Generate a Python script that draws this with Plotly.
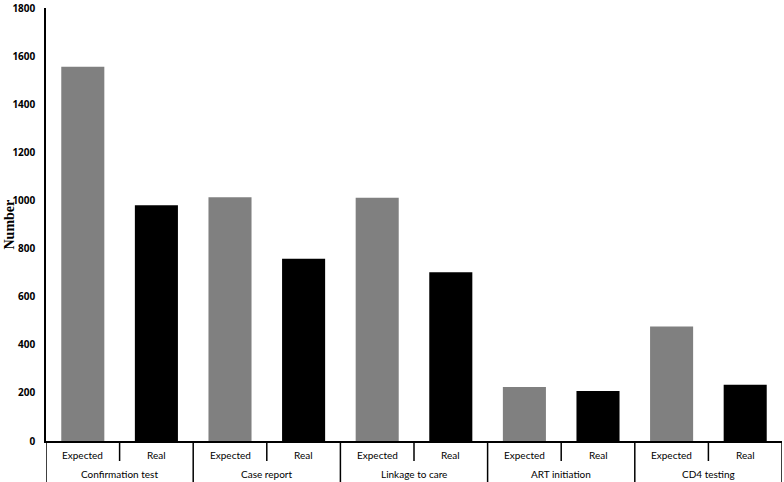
import plotly.graph_objects as go

# care cascade steps and counts
steps = ["Confirmation test", "Case report", "Linkage to care", "ART initiation", "CD4 testing"]
kinds = ["Expected", "Real"]
expected = [1556, 1013, 1011, 224, 476]
real = [980, 758, 702, 208, 234]

# interleave so each step gets its Expected / Real pair
pos, vals, cols, inner = [], [], [], []
for i, (e, r) in enumerate(zip(expected, real)):
    for j, (k, v) in enumerate(zip(kinds, [e, r])):
        pos.append(2 * i + j)
        vals.append(v)
        inner.append(k)
        cols.append("#808080" if k == "Expected" else "#000000")

fig = go.Figure(go.Bar(x=pos, y=vals, marker_color=cols, marker_line_width=0))

plot_h = 433  # px height of plot area, used to drop labels below the axis
def below(px):
    return -px / plot_h

shapes, annots = [], []
# short dividers between Expected and Real
for p in pos[::2]:
    shapes.append(dict(type="line", xref="x", yref="paper", x0=p + 0.5, x1=p + 0.5,
                       y0=0, y1=below(20), line=dict(color="black", width=1.5)))
# long dividers between steps, incl. both ends
for i in range(len(steps) + 1):
    x = 2 * i - 0.5
    shapes.append(dict(type="line", xref="x", yref="paper", x0=x, x1=x,
                       y0=0, y1=below(45), line=dict(color="black", width=1.5)))
for p, k in zip(pos, inner):
    annots.append(dict(x=p, y=below(14), xref="x", yref="paper", text=k, showarrow=False,
                       font=dict(family="Lato", size=10, color="black"), yanchor="middle"))
for i, s in enumerate(steps):
    annots.append(dict(x=2 * i + 0.5, y=below(33), xref="x", yref="paper", text=s, showarrow=False,
                       font=dict(family="Lato", size=10, color="black"), yanchor="middle"))
annots.append(dict(x=-37 / 736, y=0.5, xref="paper", yref="paper", text="<b>Number</b>",
                   textangle=-90, showarrow=False, xanchor="center", yanchor="middle",
                   font=dict(family="Liberation Serif", size=14, color="black")))

fig.update_layout(
    width=784, height=482,
    margin=dict(l=46, r=2, t=8, b=41, autoexpand=False),
    plot_bgcolor="white", paper_bgcolor="white",
    bargap=0.415, showlegend=False,
    shapes=shapes, annotations=annots,
)
fig.update_yaxes(
    range=[0, 1800], tickvals=list(range(0, 1801, 200)), showgrid=False, zeroline=False,
    showline=True, linecolor="black", linewidth=1.5, ticks="",
    ticklabelstandoff=7, ticklabeloverflow="allow", automargin=False,
    tickfont=dict(family="Open Sans", size=10, color="black", weight="bold"),
)
fig.update_xaxes(
    range=[-0.5, 9.5], showgrid=False, zeroline=False, showticklabels=False,
    showline=True, linecolor="black", linewidth=1.5, ticks="", automargin=False,
)

# drop the page's default body margin so the figure sits at the window corner
fig.write_html("out.html", config={"displayModeBar": False},
               post_script="document.body.style.margin='0';")
